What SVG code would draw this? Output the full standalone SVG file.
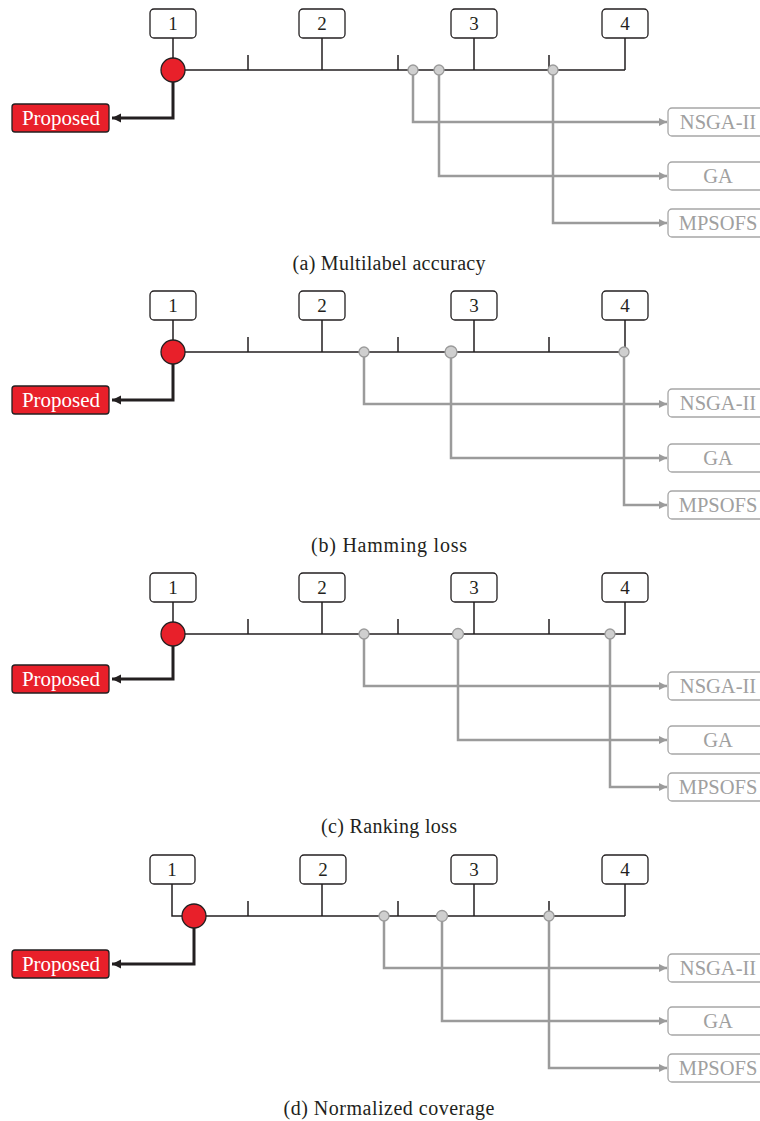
<svg xmlns="http://www.w3.org/2000/svg" width="760" height="1121" viewBox="0 0 760 1121">
<defs>
<style>
.bg{fill:#fff}
.nbox{fill:#fff;stroke:#231f20;stroke-width:1.3}
.ntxt{font-family:"Liberation Serif",serif;font-size:19px;fill:#231f20;text-anchor:middle}
.axis{fill:none;stroke:#231f20;stroke-width:1.5}
.black{fill:none;stroke:#231f20;stroke-width:3}
.gray{fill:none;stroke:#9b9b9b;stroke-width:2.5}
.red{fill:#e8202a;stroke:#231f20;stroke-width:1.3}
.gdot{fill:#cfcfcf;stroke:#9b9b9b;stroke-width:1.3}
.pbox{fill:#e8202a;stroke:#231f20;stroke-width:1.3}
.ptxt{font-family:"Liberation Serif",serif;font-size:21px;fill:#fff;text-anchor:middle}
.lbox{fill:#fff;stroke:#a6a6a6;stroke-width:1.3}
.ltxt{font-family:"Liberation Serif",serif;font-size:20.5px;fill:#a0a0a0;text-anchor:middle}
.cap{font-family:"Liberation Serif",serif;font-size:20px;fill:#231f20;text-anchor:middle}
</style>
<marker id="ag" markerUnits="userSpaceOnUse" markerWidth="10" markerHeight="10" refX="8" refY="4" orient="auto"><path d="M0,0 L8,4 L0,8 Z" fill="#9b9b9b"/></marker>
<marker id="ab" markerUnits="userSpaceOnUse" markerWidth="12" markerHeight="12" refX="9" refY="4.5" orient="auto"><path d="M0,0 L9,4.5 L0,9 Z" fill="#231f20"/></marker>
</defs>
<rect class="bg" x="0" y="0" width="760" height="1121"/>

<!-- Panel (a) -->
<g id="panel-a">
<g id="a-connectors">
<path class="axis" d="M173,38 V58 M322,38 V70 M474,38 V70 M625,38 V70 M185,70 H625 M248,55 V70 M398,55 V70 M549,55 V70"/>
<path class="black" d="M173,82 V118 H112" marker-end="url(#ab)"/>
<path class="gray" d="M413,75 V122 H667" marker-end="url(#ag)"/>
<path class="gray" d="M439,75 V176 H667" marker-end="url(#ag)"/>
<path class="gray" d="M553,75 V223 H667" marker-end="url(#ag)"/>
</g>
<g id="a-n1"><rect class="nbox" x="150" y="9" width="46" height="29" rx="4"/><text class="ntxt" x="173" y="30">1</text></g>
<g id="a-n2"><rect class="nbox" x="299" y="9" width="46" height="29" rx="4"/><text class="ntxt" x="322" y="30">2</text></g>
<g id="a-n3"><rect class="nbox" x="451" y="9" width="46" height="29" rx="4"/><text class="ntxt" x="474" y="30">3</text></g>
<g id="a-n4"><rect class="nbox" x="602" y="9" width="46" height="29" rx="4"/><text class="ntxt" x="625" y="30">4</text></g>
<g id="a-red"><circle class="red" cx="173" cy="70" r="12"/></g>
<g id="a-d1"><circle class="gdot" cx="413" cy="70" r="5"/></g>
<g id="a-d2"><circle class="gdot" cx="439" cy="70" r="5"/></g>
<g id="a-d3"><circle class="gdot" cx="553" cy="70" r="5"/></g>
<g id="a-proposed"><rect class="pbox" x="12" y="104" width="97" height="28" rx="3"/><text class="ptxt" x="61" y="125">Proposed</text></g>
<g id="a-nsga"><rect class="lbox" x="668" y="108" width="100" height="28" rx="4"/><text class="ltxt" x="718" y="129">NSGA-II</text></g>
<g id="a-ga"><rect class="lbox" x="668" y="162" width="100" height="28" rx="4"/><text class="ltxt" x="718" y="183">GA</text></g>
<g id="a-mpsofs"><rect class="lbox" x="668" y="209" width="100" height="28" rx="4"/><text class="ltxt" x="718" y="230">MPSOFS</text></g>
<text class="cap" x="389" y="270" textLength="193" lengthAdjust="spacing">(a) Multilabel accuracy</text>
</g>

<!-- Panel (b) -->
<g id="panel-b" transform="translate(0,282)">
<g id="b-connectors">
<path class="axis" d="M173,38 V58 M322,38 V70 M474,38 V70 M625,38 V65 M185,70 H619 M248,55 V70 M398,55 V70 M549,55 V70"/>
<path class="black" d="M173,82 V118 H112" marker-end="url(#ab)"/>
<path class="gray" d="M364,75 V122 H667" marker-end="url(#ag)"/>
<path class="gray" d="M451,76 V176 H667" marker-end="url(#ag)"/>
<path class="gray" d="M624,75 V223 H667" marker-end="url(#ag)"/>
</g>
<g id="b-n1"><rect class="nbox" x="150" y="9" width="46" height="29" rx="4"/><text class="ntxt" x="173" y="30">1</text></g>
<g id="b-n2"><rect class="nbox" x="299" y="9" width="46" height="29" rx="4"/><text class="ntxt" x="322" y="30">2</text></g>
<g id="b-n3"><rect class="nbox" x="451" y="9" width="46" height="29" rx="4"/><text class="ntxt" x="474" y="30">3</text></g>
<g id="b-n4"><rect class="nbox" x="602" y="9" width="46" height="29" rx="4"/><text class="ntxt" x="625" y="30">4</text></g>
<g id="b-red"><circle class="red" cx="173" cy="70" r="12"/></g>
<g id="b-d1"><circle class="gdot" cx="364" cy="70" r="5"/></g>
<g id="b-d2"><circle class="gdot" cx="451" cy="70" r="6"/></g>
<g id="b-d3"><circle class="gdot" cx="624" cy="70" r="5"/></g>
<g id="b-proposed"><rect class="pbox" x="12" y="104" width="97" height="28" rx="3"/><text class="ptxt" x="61" y="125">Proposed</text></g>
<g id="b-nsga"><rect class="lbox" x="668" y="107" width="100" height="28" rx="4"/><text class="ltxt" x="718" y="128">NSGA-II</text></g>
<g id="b-ga"><rect class="lbox" x="668" y="162" width="100" height="28" rx="4"/><text class="ltxt" x="718" y="183">GA</text></g>
<g id="b-mpsofs"><rect class="lbox" x="668" y="209" width="100" height="28" rx="4"/><text class="ltxt" x="718" y="230">MPSOFS</text></g>
<text class="cap" x="389" y="270" textLength="156" lengthAdjust="spacing">(b) Hamming loss</text>
</g>

<!-- Panel (c) -->
<g id="panel-c" transform="translate(0,564)">
<g id="c-connectors">
<path class="axis" d="M173,38 V58 M322,38 V70 M474,38 V70 M625,38 V70 H615 M185,70 H605 M248,55 V70 M398,55 V70 M549,55 V70"/>
<path class="black" d="M173,82 V115 H112" marker-end="url(#ab)"/>
<path class="gray" d="M364,75 V122 H667" marker-end="url(#ag)"/>
<path class="gray" d="M458,75 V176 H667" marker-end="url(#ag)"/>
<path class="gray" d="M610,75 V223 H667" marker-end="url(#ag)"/>
</g>
<g id="c-n1"><rect class="nbox" x="150" y="9" width="46" height="29" rx="4"/><text class="ntxt" x="173" y="30">1</text></g>
<g id="c-n2"><rect class="nbox" x="299" y="9" width="46" height="29" rx="4"/><text class="ntxt" x="322" y="30">2</text></g>
<g id="c-n3"><rect class="nbox" x="451" y="9" width="46" height="29" rx="4"/><text class="ntxt" x="474" y="30">3</text></g>
<g id="c-n4"><rect class="nbox" x="602" y="9" width="46" height="29" rx="4"/><text class="ntxt" x="625" y="30">4</text></g>
<g id="c-red"><circle class="red" cx="173" cy="70" r="12"/></g>
<g id="c-d1"><circle class="gdot" cx="364" cy="70" r="5"/></g>
<g id="c-d2"><circle class="gdot" cx="458" cy="70" r="5.5"/></g>
<g id="c-d3"><circle class="gdot" cx="610" cy="70" r="5"/></g>
<g id="c-proposed"><rect class="pbox" x="12" y="101" width="97" height="28" rx="3"/><text class="ptxt" x="61" y="122">Proposed</text></g>
<g id="c-nsga"><rect class="lbox" x="668" y="108" width="100" height="28" rx="4"/><text class="ltxt" x="718" y="129">NSGA-II</text></g>
<g id="c-ga"><rect class="lbox" x="668" y="162" width="100" height="28" rx="4"/><text class="ltxt" x="718" y="183">GA</text></g>
<g id="c-mpsofs"><rect class="lbox" x="668" y="209" width="100" height="28" rx="4"/><text class="ltxt" x="718" y="230">MPSOFS</text></g>
<text class="cap" x="389" y="269" textLength="136" lengthAdjust="spacing">(c) Ranking loss</text>
</g>

<!-- Panel (d) -->
<g id="panel-d" transform="translate(0,846)">
<g id="d-connectors">
<path class="axis" d="M172,38 V70 H182 M322,38 V70 M474,38 V70 M625,38 V70 M206,70 H625 M248,55 V70 M398,55 V70 M549,55 V70"/>
<path class="black" d="M194,82 V118 H112" marker-end="url(#ab)"/>
<path class="gray" d="M384,75 V122 H667" marker-end="url(#ag)"/>
<path class="gray" d="M442,75 V175 H667" marker-end="url(#ag)"/>
<path class="gray" d="M549,75 V222 H667" marker-end="url(#ag)"/>
</g>
<g id="d-n1"><rect class="nbox" x="150" y="9" width="45" height="29" rx="4"/><text class="ntxt" x="172" y="30">1</text></g>
<g id="d-n2"><rect class="nbox" x="300" y="9" width="46" height="29" rx="4"/><text class="ntxt" x="323" y="30">2</text></g>
<g id="d-n3"><rect class="nbox" x="451" y="9" width="46" height="29" rx="4"/><text class="ntxt" x="474" y="30">3</text></g>
<g id="d-n4"><rect class="nbox" x="602" y="9" width="46" height="29" rx="4"/><text class="ntxt" x="625" y="30">4</text></g>
<g id="d-red"><circle class="red" cx="194" cy="70" r="12"/></g>
<g id="d-d1"><circle class="gdot" cx="384" cy="70" r="5"/></g>
<g id="d-d2"><circle class="gdot" cx="442" cy="70" r="5.5"/></g>
<g id="d-d3"><circle class="gdot" cx="549" cy="70" r="5"/></g>
<g id="d-proposed"><rect class="pbox" x="12" y="104" width="97" height="28" rx="3"/><text class="ptxt" x="61" y="125">Proposed</text></g>
<g id="d-nsga"><rect class="lbox" x="668" y="108" width="100" height="28" rx="4"/><text class="ltxt" x="718" y="129">NSGA-II</text></g>
<g id="d-ga"><rect class="lbox" x="668" y="161" width="100" height="28" rx="4"/><text class="ltxt" x="718" y="182">GA</text></g>
<g id="d-mpsofs"><rect class="lbox" x="668" y="208" width="100" height="28" rx="4"/><text class="ltxt" x="718" y="229">MPSOFS</text></g>
<text class="cap" x="389" y="269" textLength="211" lengthAdjust="spacing">(d) Normalized coverage</text>
</g>
</svg>
